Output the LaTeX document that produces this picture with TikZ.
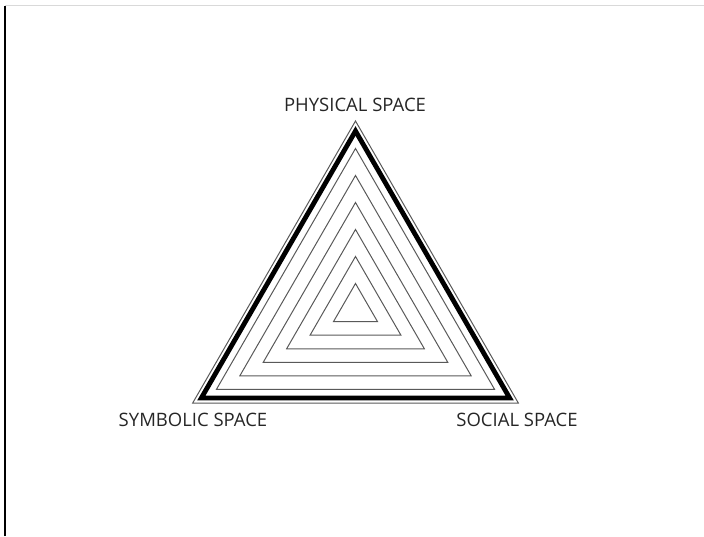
\documentclass[tikz,border=0pt]{standalone}
\usepackage{fontspec}
\setmainfont{Open Sans}
\usetikzlibrary{calc}

\begin{document}
\begin{tikzpicture}[
    x=1pt, y=1pt,
    ring/.style={draw=black!65, line width=1pt, line join=miter},
    bold/.style={draw=black, line width=4.8pt, line join=miter},
    spacelabel/.style={font=\fontsize{18.5}{20}\selectfont, text=black!85, inner sep=0pt}
]
\useasboundingbox (0,0) rectangle (704,536);
% frame edges
\draw[black!15, line width=1pt] (5,530) -- (704,530);
\draw[black, line width=1.2pt] (5,0) -- (5,530);
\coordinate (c) at (355.5,227);
% outer and bold triangles
\draw[ring] ($(c)+(90:188)$) -- ($(c)+(210:188)$) -- ($(c)+(330:188)$) -- cycle;
\draw[bold] ($(c)+(90:178)$) -- ($(c)+(210:178)$) -- ($(c)+(330:178)$) -- cycle;
% nested triangles
\foreach \r in {25.5,52.5,...,161} {
  \draw[ring] ($(c)+(90:\r)$) -- ($(c)+(210:\r)$) -- ($(c)+(330:\r)$) -- cycle;
}
\node (physical) [spacelabel] at (355,431) {PHYSICAL SPACE};
\node (symbolic) [spacelabel] at (193,116) {SYMBOLIC SPACE};
\node (social) [spacelabel] at (517,116) {SOCIAL SPACE};
\end{tikzpicture}
\end{document}
